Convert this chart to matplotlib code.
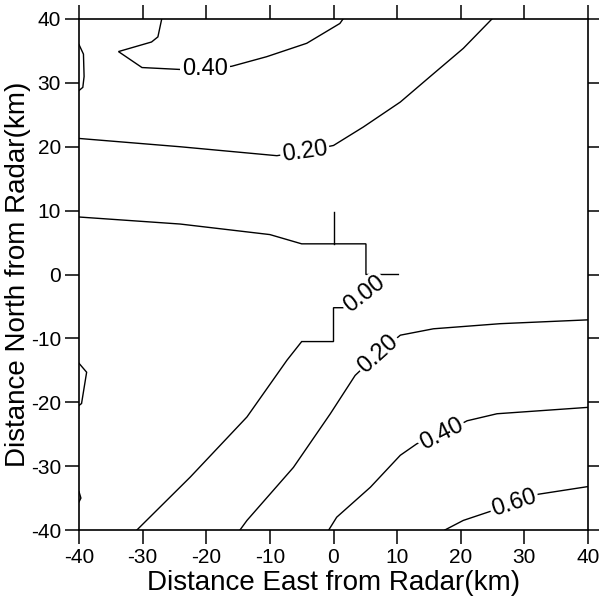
import matplotlib

matplotlib.use("Agg")
import matplotlib.pyplot as plt

plt.rcParams["font.family"] = ["Liberation Sans", "DejaVu Sans"]
plt.rcParams["axes.unicode_minus"] = False

# contour paths (km east, km north)
c040_north_x = [-27.0, -27.6, -28.6, -33.8, -30.1, -24.1, -20.2, -16.0, -10.5, -4.2, 1.0, 1.5]
c040_north_y = [40.0, 37.2, 36.4, 34.9, 32.4, 32.1, 32.1, 32.6, 34.1, 36.2, 39.3, 40.0]

c040_edge_x = [-40.0, -39.3, -39.2, -39.4, -40.0]
c040_edge_y = [36.0, 34.5, 31.0, 29.3, 28.8]

c020_north_x = [-40.0, -24.1, -8.9, -4.5, 0.0, 4.7, 10.5, 15.2, 20.4, 24.9]
c020_north_y = [21.3, 20.0, 18.6, 19.3, 20.2, 23.1, 27.0, 31.0, 35.4, 40.0]

c000_upper_x = [-40.0, -24.1, -10.0, -5.0, 5.1, 5.1, 10.2]
c000_upper_y = [9.0, 7.9, 6.25, 4.8, 4.8, 0.0, 0.0]
c000_stub_x = [0.0, 0.0]
c000_stub_y = [4.8, 9.8]
c000_lower_x = [-30.9, -22.5, -13.6, -7.3, -5.0, 0.0, 0.0, 1.5, 4.8]
c000_lower_y = [-40.0, -31.7, -22.3, -13.4, -10.5, -10.5, -5.2, -5.2, -3.0]

c020_south_x = [40.0, 26.2, 15.7, 10.5, 7.0, 3.4, -0.5, -6.3, -13.6, -14.7]
c020_south_y = [-7.1, -7.7, -8.5, -9.5, -12.4, -15.8, -21.8, -30.2, -38.5, -40.0]

c020_edge_x = [-40.0, -38.8, -39.6, -40.0]
c020_edge_y = [-13.9, -15.3, -20.2, -20.5]

c040_south_x = [40.0, 25.7, 21.0, 17.0, 13.1, 10.5, 5.8, 0.5, -0.75]
c040_south_y = [-20.8, -21.8, -22.9, -25.0, -26.5, -28.3, -33.3, -38.0, -40.0]

c060_x = [17.5, 20.4, 24.6, 28.4, 32.2, 40.0]
c060_y = [-40.0, -38.5, -37.1, -35.8, -34.4, -33.2]

tick_edge_x = [-40.0, -39.7, -40.0]
tick_edge_y = [-34.0, -35.0, -35.6]

# contour labels: text, x, y, rotation
label_text = ["0.40", "0.20", "0.00", "0.20", "0.40", "0.60"]
label_x = [-20.2, -4.5, 4.8, 7.0, 17.0, 28.4]
label_y = [32.1, 19.2, -3.0, -12.4, -25.0, -35.8]
label_rot = [0, 8, 38, 42, 27, 18]

ticks = [-40, -30, -20, -10, 0, 10, 20, 30, 40]
tick_labels = ["-40", "-30", "-20", "-10", "0", "10", "20", "30", "40"]

fig = plt.figure(figsize=(5.99, 6.12), dpi=100)
ax = fig.add_axes([79 / 599, 1 - 530 / 612, 509 / 599, 511 / 612])

paths = [
    (c040_north_x, c040_north_y),
    (c040_edge_x, c040_edge_y),
    (c020_north_x, c020_north_y),
    (c000_upper_x, c000_upper_y),
    (c000_stub_x, c000_stub_y),
    (c000_lower_x, c000_lower_y),
    (c020_south_x, c020_south_y),
    (c020_edge_x, c020_edge_y),
    (c040_south_x, c040_south_y),
    (c060_x, c060_y),
    (tick_edge_x, tick_edge_y),
]
for xs, ys in paths:
    ax.plot(xs, ys, color="black", lw=1.0, solid_joinstyle="miter")

for txt, x, y, rot in zip(label_text, label_x, label_y, label_rot):
    ax.text(x, y, txt, fontsize=17, rotation=rot, rotation_mode="anchor",
            ha="center", va="center",
            bbox=dict(boxstyle="square,pad=0.08", fc="white", ec="none"))

ax.set_xlim(-40, 40)
ax.set_ylim(-40, 40)
ax.set_xticks(ticks)
ax.set_xticklabels(tick_labels)
ax.set_yticks(ticks)
ax.set_yticklabels(tick_labels)
ax.tick_params(direction="out", length=10, width=1.1, labelsize=15, pad=3,
               top=True, right=True)
for side in ax.spines.values():
    side.set_linewidth(1.2)

ax.set_xlabel("Distance East from Radar(km)", fontsize=20, labelpad=2)
ax.set_ylabel("Distance North from Radar(km)", fontsize=20, labelpad=0)

plt.savefig("out.png", dpi=100)
plt.close(fig)
